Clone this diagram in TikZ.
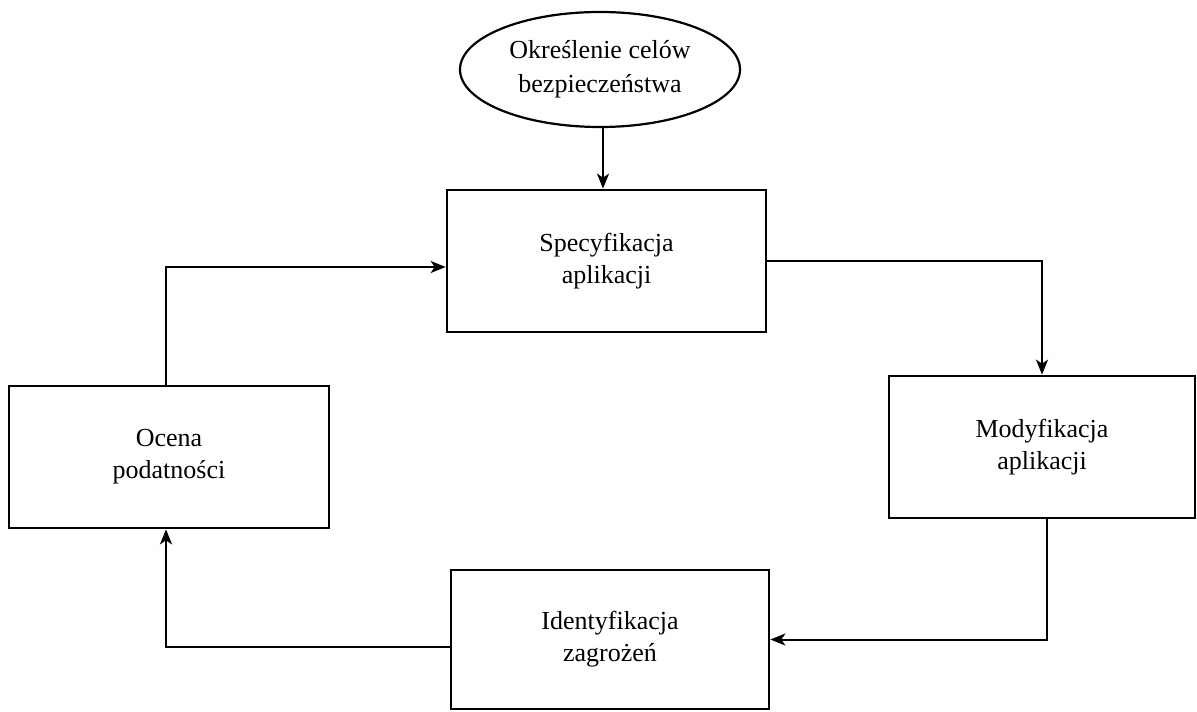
\documentclass[tikz,border=0pt]{standalone}
\usepackage{fontspec}
\setmainfont{Liberation Serif}
\usetikzlibrary{arrows.meta,shapes.geometric,calc}

\tikzset{
  stepbox/.style={draw, line width=1.35pt, rectangle, align=center,
    font=\fontsize{13}{16}\selectfont},
  goalnode/.style={draw, line width=1.1pt, ellipse, align=center, inner sep=0pt,
    font=\fontsize{13}{17}\selectfont, minimum width=140pt, minimum height=57.5pt},
  flow/.style={line width=1pt, -{Stealth[length=7.5pt,width=6pt,inset=2pt]}}
}

\begin{document}
\begin{tikzpicture}[x=0.5pt,y=-0.5pt]
  \useasboundingbox (0,0) rectangle (1197,711);

  % cel i etapy cyklu
  \node[goalnode] (cel) at (600,69.5) {Określenie celów\\bezpieczeństwa};
  \node[stepbox, minimum width=159.5pt, minimum height=71pt] (spec) at (606.5,261) {Specyfikacja\\aplikacji};
  \node[stepbox, minimum width=153pt, minimum height=71pt] (modyf) at (1042,447) {Modyfikacja\\aplikacji};
  \node[stepbox, minimum width=159pt, minimum height=69.5pt] (ident) at (610,639.5) {Identyfikacja\\zagrożeń};
  \node[stepbox, minimum width=160pt, minimum height=71pt] (ocena) at (169,457) {Ocena\\podatności};

  % połączenia
  \draw[flow] ($(cel.south)+(3,0)$) -- ($(cel.south |- spec.north)+(3,0)$);
  \draw[flow] (spec.east) -| (modyf.north);
  \draw[flow] ($(modyf.south)+(5,0)$) |- (ident.east);
  \draw[flow] ($(ident.west)+(0,7)$) -| ($(ocena.south)+(-3,0)$);
  \draw[flow] ($(ocena.north)+(-3,0)$) |- ($(spec.west)+(0,6)$);
\end{tikzpicture}
\end{document}
